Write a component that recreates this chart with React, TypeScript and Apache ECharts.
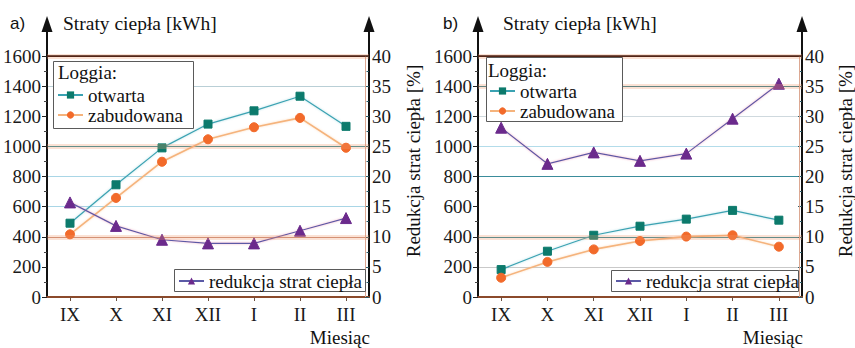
import React, { useEffect, useRef } from "react";
import * as echarts from "echarts";

const months = ["IX", "X", "XI", "XII", "I", "II", "III"];
const leftTicks = [0, 200, 400, 600, 800, 1000, 1200, 1400, 1600];
const rightTicks = [0, 5, 10, 15, 20, 25, 30, 35, 40];

const aOtwarta = [490, 745, 990, 1148, 1236, 1333, 1133];
const aZabudowana = [416, 658, 898, 1047, 1127, 1189, 991];
const aRedukcja = [15.7, 11.8, 9.5, 8.9, 8.9, 11.0, 13.1];

const bOtwarta = [182, 304, 410, 470, 517, 575, 510];
const bZabudowana = [128, 233, 316, 372, 401, 410, 334];
const bRedukcja = [28.1, 22.1, 24.0, 22.6, 23.8, 29.6, 35.4];

const SERIF = "Liberation Serif, DejaVu Serif, serif";
const SANS = "Liberation Sans, Arial, sans-serif";

// split line colours (index 0 = value 0)
const gridColorsA = ["rgba(0,0,0,0)", "rgba(0,0,0,0)", "#c98f7a", "#a9d6e6", "#a9d6e6", "#2d8c99", "rgba(0,0,0,0)", "#b9cfd6", "#4a1e10"];
const gridColorsB = ["rgba(0,0,0,0)", "#c9c9c9", "#2d8896", "rgba(0,0,0,0)", "#3a8c9b", "#b3dcea", "#cfd9de", "#2d7f8e", "#4a1e10"];

const haloA = [1600, 1000, 400];
const haloB = [1600, 1400, 400];

const GA = { left: 47, top: 56, width: 322, height: 241 };
const GB = { left: 478, top: 56, width: 324, height: 241 };

function haloMarkLine(levels: number[], topColor: string) {
  const data: any[] = [];
  levels.forEach((v) => {
    data.push({ yAxis: v, lineStyle: { color: "rgba(242,150,105,0.28)", width: 5, type: "solid" } });
  });
  data.push({ yAxis: levels[0], lineStyle: { color: topColor, width: 1.6, type: "solid" } });
  return {
    silent: true,
    symbol: ["none", "none"],
    label: { show: false },
    animation: false,
    data,
  };
}

function xAxisCfg(gridIndex: number) {
  return {
    type: "category",
    gridIndex,
    data: months,
    boundaryGap: true,
    axisLine: { show: true, lineStyle: { color: "#8b4a2b", width: 2 } },
    axisTick: { show: true, alignWithLabel: true, length: 4, lineStyle: { color: "#6b5040" } },
    axisLabel: { fontSize: 19, fontFamily: SERIF, color: "#1a1a1a", margin: 8 },
    splitLine: { show: false },
  };
}

function leftAxisCfg(gridIndex: number, colors: string[]) {
  return {
    type: "value",
    gridIndex,
    position: "left",
    min: leftTicks[0],
    max: leftTicks[leftTicks.length - 1],
    interval: leftTicks[1] - leftTicks[0],
    axisLine: { show: true, lineStyle: { color: "#111", width: 2 } },
    axisTick: { show: true, length: 5, lineStyle: { color: "#222" } },
    minorTick: { show: true, splitNumber: 2, length: 3, lineStyle: { color: "#444" } },
    axisLabel: { fontSize: 19, fontFamily: SERIF, color: "#1a1a1a", margin: 6, formatter: (v: number) => String(v) },
    splitLine: { show: true, lineStyle: { color: colors, width: 1 } },
    minorSplitLine: { show: false },
  };
}

function rightAxisCfg(gridIndex: number) {
  return {
    type: "value",
    gridIndex,
    position: "right",
    min: rightTicks[0],
    max: rightTicks[rightTicks.length - 1],
    interval: rightTicks[1] - rightTicks[0],
    axisLine: { show: true, lineStyle: { color: "#111", width: 2 } },
    axisTick: { show: true, inside: true, length: 4, lineStyle: { color: "#2a5a66" } },
    minorTick: { show: true, splitNumber: 2, length: 2.5, lineStyle: { color: "#2a5a66" } },
    axisLabel: { fontSize: 19, fontFamily: SERIF, color: "#1a1a1a", margin: 3, formatter: (v: number) => String(v) },
    splitLine: { show: false },
  };
}

function lineSeries(name: string, data: number[], xi: number, yi: number, kind: string, markLine?: any) {
  const styles: any = {
    otwarta: { line: "#3aa2b2", item: "#0c7a6c", symbol: "rect", size: 8, width: 1.2, halo: "rgba(120,200,210,0.6)" },
    zabudowana: { line: "#f5b37c", item: "#f26a2a", symbol: "circle", size: 9, width: 1.6, halo: "rgba(250,200,150,0.6)" },
    redukcja: { line: "#5b5aa6", item: "#6b2a8c", symbol: "triangle", size: 11, width: 1.2, halo: "rgba(235,140,170,0.7)" },
  };
  const s = styles[kind];
  const out: any = {
    type: "line",
    name,
    data,
    xAxisIndex: xi,
    yAxisIndex: yi,
    symbol: s.symbol,
    symbolSize: s.size,
    showAllSymbol: true,
    lineStyle: { color: s.line, width: s.width, shadowColor: s.halo, shadowBlur: 2 },
    itemStyle: { color: s.item, borderColor: s.item },
    z: 3,
  };
  if (markLine) out.markLine = markLine;
  return out;
}

export default function App() {
  const ref = useRef<HTMLDivElement>(null);
  useEffect(() => {
    document.body.style.margin = "0";
    const chart = echarts.init(ref.current!, undefined, { renderer: "svg" });

    const graphics: any[] = [];
    const txt = (x: number, y: number, text: string, size: number, family: string, extra: any = {}) => ({
      type: "text",
      x,
      y,
      z: 7,
      ...extra,
      style: { text, fontSize: size, fontFamily: family, fill: "#111", verticalAlign: "middle", ...(extra.style || {}) },
    });
    const decorate = (g: any, label: string, labelX: number, titleX: number, loggia: { x: number; y: number; w: number; h: number; tx: number; ty: number }, box2: { x: number; y: number; w: number; h: number }, nameX: number, frameX: number) => {
      const lx = g.left;
      const rx = g.left + g.width;
      graphics.push({ type: "line", shape: { x1: frameX, y1: g.top, x2: frameX, y2: g.top + g.height }, style: { stroke: "#dca892", lineWidth: 1 }, z: 1 });
      [lx, rx].forEach((x) => {
        graphics.push({ type: "line", shape: { x1: x, y1: 30, x2: x, y2: g.top }, style: { stroke: "#111", lineWidth: 2 }, z: 5 });
        graphics.push({ type: "polygon", shape: { points: [[x, 16], [x - 5.5, 32], [x + 5.5, 32]] }, style: { fill: "#111" }, z: 5 });
      });
      graphics.push(txt(labelX, 23, label, 17, SANS));
      graphics.push(txt(titleX, 23, "Straty ciepła [kWh]", 19.5, SERIF));
      graphics.push({ type: "rect", shape: { x: loggia.x, y: loggia.y, width: loggia.w, height: loggia.h }, style: { fill: "#fff", stroke: "#5a5a5a", lineWidth: 1 }, z: 6 });
      graphics.push(txt(loggia.tx, loggia.ty, "Loggia:", 19, SERIF));
      graphics.push({ type: "rect", shape: { x: box2.x, y: box2.y, width: box2.w, height: box2.h }, style: { fill: "#fff", stroke: "#5a5a5a", lineWidth: 1 }, z: 6 });
      graphics.push(txt(nameX, 161, "Redukcja strat ciepła [%]", 19, SERIF, { rotation: Math.PI / 2, style: { align: "center" } }));
      graphics.push(txt(rx + 1, 337, "Miesiąc", 19, SERIF, { style: { align: "right" } }));
    };
    decorate(GA, "a)", 10, 63, { x: 53.5, y: 61.5, w: 140, h: 67, tx: 58, ty: 72 }, { x: 174.5, y: 269.5, w: 191, h: 22 }, 413, 365.5);
    decorate(GB, "b)", 443, 503, { x: 486.5, y: 57.5, w: 136, h: 64, tx: 488, ty: 70 }, { x: 611.5, y: 270.5, w: 187, h: 21 }, 845, 799.5);

    const legendCommon = {
      orient: "vertical",
      itemWidth: 25,
      itemHeight: 9,
      itemGap: 1,
      padding: 0,
      selectedMode: false,
      z: 10,
      textStyle: { fontSize: 19, fontFamily: SERIF, color: "#111" },
    };

    chart.setOption({
      animation: false,
      textStyle: { fontFamily: SERIF },
      grid: [
        { ...GA, containLabel: false },
        { ...GB, containLabel: false },
      ],
      xAxis: [xAxisCfg(0), xAxisCfg(1)],
      yAxis: [leftAxisCfg(0, gridColorsA), rightAxisCfg(0), leftAxisCfg(1, gridColorsB), rightAxisCfg(1)],
      legend: [
        { ...legendCommon, data: ["otwarta", "zabudowana"], left: 57, top: 85.5 },
        { ...legendCommon, data: ["redukcja strat ciepła"], left: 178, top: 271.5 },
        { ...legendCommon, data: ["otwarta", "zabudowana"], left: 489, top: 81.5 },
        { ...legendCommon, data: ["redukcja strat ciepła"], left: 615, top: 271.5 },
      ],
      series: [
        lineSeries("otwarta", aOtwarta, 0, 0, "otwarta", haloMarkLine(haloA, "#4a1e10")),
        lineSeries("zabudowana", aZabudowana, 0, 0, "zabudowana"),
        lineSeries("redukcja strat ciepła", aRedukcja, 0, 1, "redukcja"),
        lineSeries("otwarta", bOtwarta, 1, 2, "otwarta", haloMarkLine(haloB, "#4a1e10")),
        lineSeries("zabudowana", bZabudowana, 1, 2, "zabudowana"),
        lineSeries("redukcja strat ciepła", bRedukcja, 1, 3, "redukcja"),
      ],
      graphic: graphics,
    });
    return () => chart.dispose();
  }, []);
  return <div ref={ref} style={{ position: "absolute", left: 0, top: 0, width: 855, height: 348 }} />;
}
